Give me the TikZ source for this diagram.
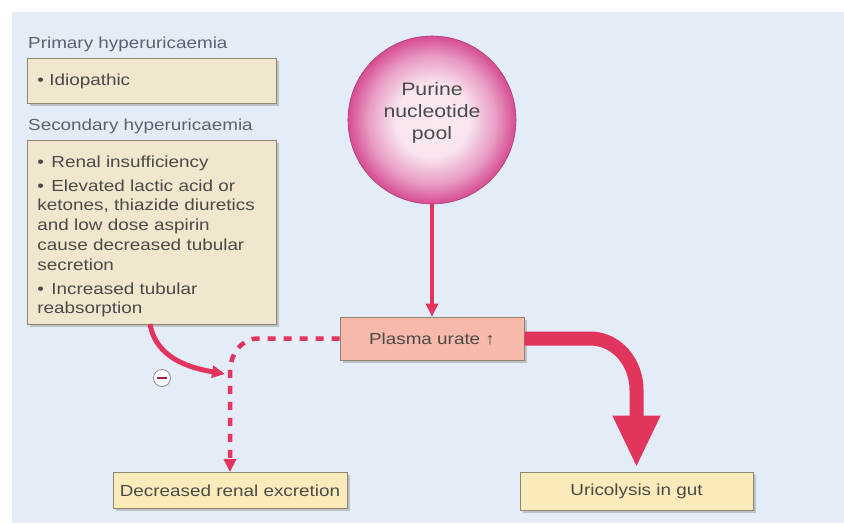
\documentclass[tikz,border=0pt]{standalone}
\usepackage{fontspec}
\setmainfont{Liberation Sans}[FakeStretch=1.18]
\usepackage{tikz}
\usetikzlibrary{arrows.meta,positioning,shadows}
\definecolor{panel}{HTML}{E4ECF7}
\definecolor{tanbox}{HTML}{F1E6CE}
\definecolor{tanedge}{HTML}{8F8672}
\definecolor{salmon}{HTML}{F6B9AA}
\definecolor{cream}{HTML}{FBEBBB}
\definecolor{urared}{HTML}{E2355E}
\definecolor{poolpink}{HTML}{D64B93}
\definecolor{inktext}{HTML}{4B4A48}
\definecolor{labeltext}{HTML}{5C6272}
\pgfdeclareradialshading{poolshade}{\pgfpoint{0bp}{0bp}}{%
  color(0bp)=(white!88!poolpink); color(11bp)=(white!85!poolpink);
  color(19bp)=(white!45!poolpink); color(25bp)=(poolpink); color(50bp)=(poolpink)}
\newcommand{\bul}[1]{\par\hangindent=14pt\hangafter=1\noindent\makebox[14pt][l]{\textbullet}#1}

\begin{document}
\begin{tikzpicture}[
    x=1pt, y=-1pt,
    font=\fontsize{16}{19.8}\selectfont,
    box/.style={draw=tanedge, line width=0.8pt, fill=tanbox, text=inktext, align=left,
        inner xsep=10pt, drop shadow={shadow xshift=2.5pt, shadow yshift=-2.5pt, fill=black!40}},
    result/.style={draw=tanedge, line width=0.8pt, fill=cream, text=inktext, align=center,
        drop shadow={shadow xshift=2.5pt, shadow yshift=-2.5pt, fill=black!40}},
    heading/.style={text=labeltext, inner sep=0pt, anchor=west},
    flow/.style={-{Triangle[length=13pt,width=12pt]}, line width=4pt, draw=urared},
    loss/.style={-{Triangle[length=13pt,width=12pt]}, line width=4.5pt, draw=urared, dash pattern=on 8pt off 8pt},
    bigflow/.style={-{Triangle[length=52pt,width=44pt]}, line width=14pt, draw=urared}
]
\useasboundingbox (0,0) rectangle (844,523);
\fill[panel] (12,12) rectangle (844,523);

\node[box, minimum width=249pt, minimum height=45pt, text width=229pt, anchor=north west] (prim) at (27,58)
    {\textbullet\ Idiopathic};
\node[heading, above right=6pt and 1pt of prim.north west] (primlbl) {Primary hyperuricaemia};
\node[box, minimum width=249pt, minimum height=184pt, text width=229pt, anchor=north west, inner ysep=6pt] (sec) at (27,140)
    {\bul{Renal insufficiency}\vspace{4pt}
     \bul{Elevated lactic acid or\\ketones, thiazide diuretics\\and low dose aspirin\\cause decreased tubular\\secretion}\vspace{4pt}
     \bul{Increased tubular\\reabsorption}};
\node[heading, above right=6pt and 1pt of sec.north west] (seclbl) {Secondary hyperuricaemia};

\node[circle, minimum size=168pt, draw=poolpink!80!black, line width=0.6pt, shading=poolshade,
    align=center, text=inktext] (pool) at (432,120) {};
\node[align=center, text=inktext, font=\fontsize{18}{22}\selectfont] (poolname) at (432,113) {Purine\\nucleotide\\pool};
\node[draw=tanedge, line width=0.8pt, fill=salmon, text=inktext, minimum width=184pt, minimum height=43pt,
    drop shadow={shadow xshift=2.5pt, shadow yshift=-2.5pt, fill=black!40}] (plasma) at (432,338.5)
    {Plasma urate ↑};
\node[result, minimum width=234pt, minimum height=36pt] (renal) at (230,490.5) {Decreased renal excretion};
\node[result, minimum width=233pt, minimum height=38pt] (gut) at (636.5,491) {Uricolysis in gut};
\node[circle, draw=black!45, fill=white, line width=0.8pt, minimum size=17pt, inner sep=0pt] (inhib) at (162,378) {};
\draw[urared!70!black, line width=1.6pt] ([xshift=-5pt]inhib.center) -- ([xshift=5pt]inhib.center);

\draw[flow] (pool) -- (plasma);
\draw[bigflow] (plasma.east) -- (590,338.5) to[out=0,in=90] (636.5,390) -- ([yshift=4pt]gut.north);
\draw[loss] (plasma.west) -- (258,338.5) to[out=180,in=90] (230,372) -- (renal.north);
\draw[flow, line width=5pt] (150,324) to[out=-80,in=170] (225,374);
\end{tikzpicture}
\end{document}
